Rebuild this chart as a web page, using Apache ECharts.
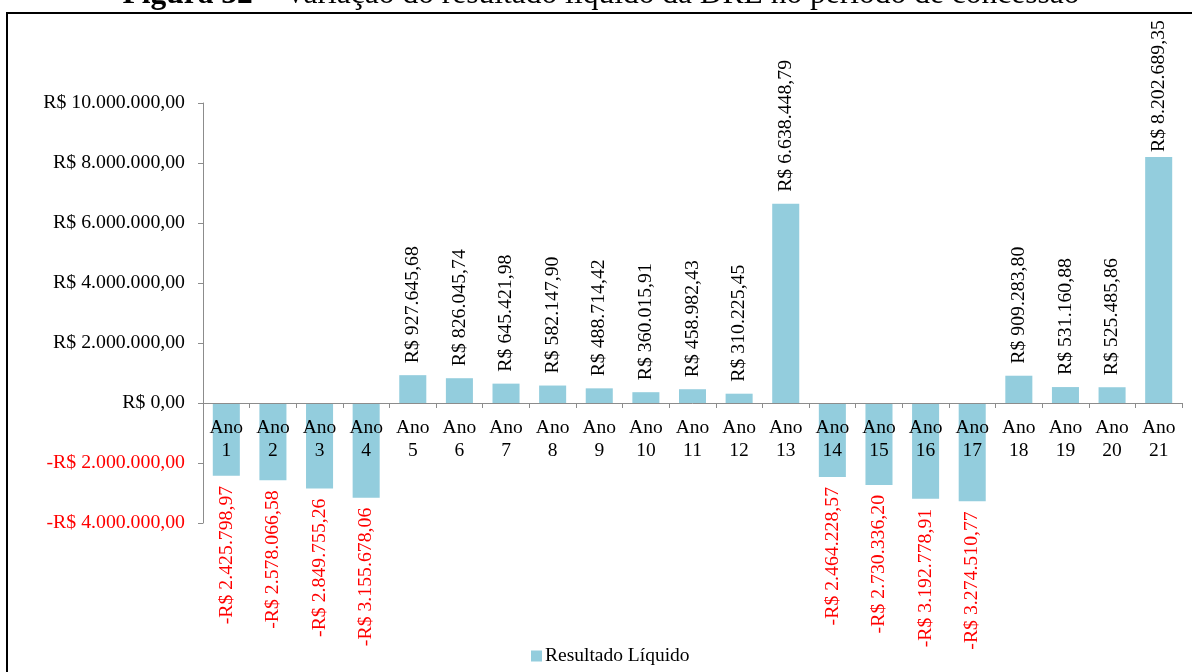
<!DOCTYPE html>
<html>
<head>
<meta charset="utf-8">
<title>Resultado Líquido</title>
<script src="https://cdn.jsdelivr.net/npm/echarts@6/dist/echarts.min.js"></script>
<style>
  html, body { margin: 0; padding: 0; background: #fff; }
  #chart { width: 1192px; height: 672px; }
</style>
</head>
<body>
<div id="chart"></div>
<script>
// Net result per concession year (R$)
const categories = ['Ano\n1', 'Ano\n2', 'Ano\n3', 'Ano\n4', 'Ano\n5', 'Ano\n6', 'Ano\n7',
  'Ano\n8', 'Ano\n9', 'Ano\n10', 'Ano\n11', 'Ano\n12', 'Ano\n13', 'Ano\n14', 'Ano\n15',
  'Ano\n16', 'Ano\n17', 'Ano\n18', 'Ano\n19', 'Ano\n20', 'Ano\n21'];
const resultadoLiquido = [
  -2425798.97, -2578066.58, -2849755.26, -3155678.06,
  927645.68, 826045.74, 645421.98, 582147.90, 488714.42, 360015.91, 458982.43, 310225.45,
  6638448.79,
  -2464228.57, -2730336.20, -3192778.91, -3274510.77,
  909283.80, 531160.88, 525485.86, 8202689.35
];
const seriesName = 'Resultado Líquido';
const titleBold = 'Figura 32';
const titleRest = ' – Variação do resultado líquido da DRE no período de concessão';
const yMin = -4000000, yMax = 10000000, yStep = 2000000;

const FONT = '"Liberation Serif", "Times New Roman", serif';
const BAR = '#93CDDD';
const RED = '#FF0000';

// plot box, and the distance from its bottom edge up to the zero line
const GRID = { left: 203, right: 10, top: 103, bottom: 149 };
const plotH = 672 - GRID.top - GRID.bottom;
const zeroLift = plotH * (0 - yMin) / (yMax - yMin);

// Brazilian currency format: -R$ 2.425.798,97
function brl(v) {
  const neg = v < 0;
  const parts = Math.abs(v).toFixed(2).split('.');
  const int = parts[0].replace(/\B(?=(\d{3})+(?!\d))/g, '.');
  return (neg ? '-' : '') + 'R$ ' + int + ',' + parts[1];
}

// labels above positive bars, below negative ones; the tallest bar's label
// is pulled in closer so it stays inside the frame
const barData = resultadoLiquido.map(v => ({
  value: v,
  label: v >= 0
    ? { position: 'top', distance: v > 8000000 ? 5 : 12, align: 'left', color: '#000' }
    : { position: 'bottom', distance: 10, align: 'right', color: RED }
}));

const chart = echarts.init(document.getElementById('chart'));
chart.setOption({
  animation: false,
  textStyle: { fontFamily: FONT },
  grid: Object.assign({ containLabel: false }, GRID),
  legend: {
    data: [seriesName],
    left: 526, top: 641,
    icon: 'rect', itemWidth: 11, itemHeight: 11, itemGap: 10,
    textStyle: { fontFamily: FONT, fontSize: 19.5, color: '#000', padding: [0, 0, 0, -2] }
  },
  xAxis: {
    type: 'category',
    data: categories,
    z: 5,
    position: 'bottom',
    offset: -zeroLift,
    axisLine: { onZero: false, lineStyle: { color: '#8C8C8C', width: 1 } },
    axisTick: { show: true, interval: 0, length: 5, lineStyle: { color: '#8C8C8C' } },
    axisLabel: {
      interval: 0, margin: 13,
      fontFamily: FONT, fontSize: 19.5, lineHeight: 23, color: '#000'
    },
    splitLine: { show: false }
  },
  yAxis: {
    type: 'value',
    min: yMin, max: yMax, interval: yStep,
    axisLine: { show: true, lineStyle: { color: '#8C8C8C', width: 1 } },
    axisTick: { show: true, length: 5, lineStyle: { color: '#8C8C8C' } },
    splitLine: { show: false },
    axisLabel: {
      margin: 18,
      fontFamily: FONT, fontSize: 19.8,
      formatter: v => brl(v),
      color: v => (v < 0 ? RED : '#000')
    }
  },
  series: [{
    name: seriesName,
    type: 'bar',
    data: barData,
    barWidth: '58%',
    itemStyle: { color: BAR },
    label: {
      show: true,
      rotate: 90,
      verticalAlign: 'middle',
      fontFamily: FONT, fontSize: 19.8,
      formatter: p => brl(p.value)
    }
  }],
  graphic: [
    {
      type: 'rect',
      shape: { x: 7, y: 13, width: 1200, height: 700 },
      style: { fill: 'none', stroke: '#000', lineWidth: 2 },
      silent: true
    },
    {
      type: 'text',
      x: 601, y: 11,
      style: {
        text: '{b|' + titleBold + '}' + titleRest,
        font: '31.5px ' + FONT,
        fill: '#000',
        align: 'center',
        verticalAlign: 'bottom',
        rich: { b: { fontWeight: 'bold', fontSize: 31.5, fontFamily: FONT } }
      },
      silent: true
    }
  ]
});
</script>
</body>
</html>
